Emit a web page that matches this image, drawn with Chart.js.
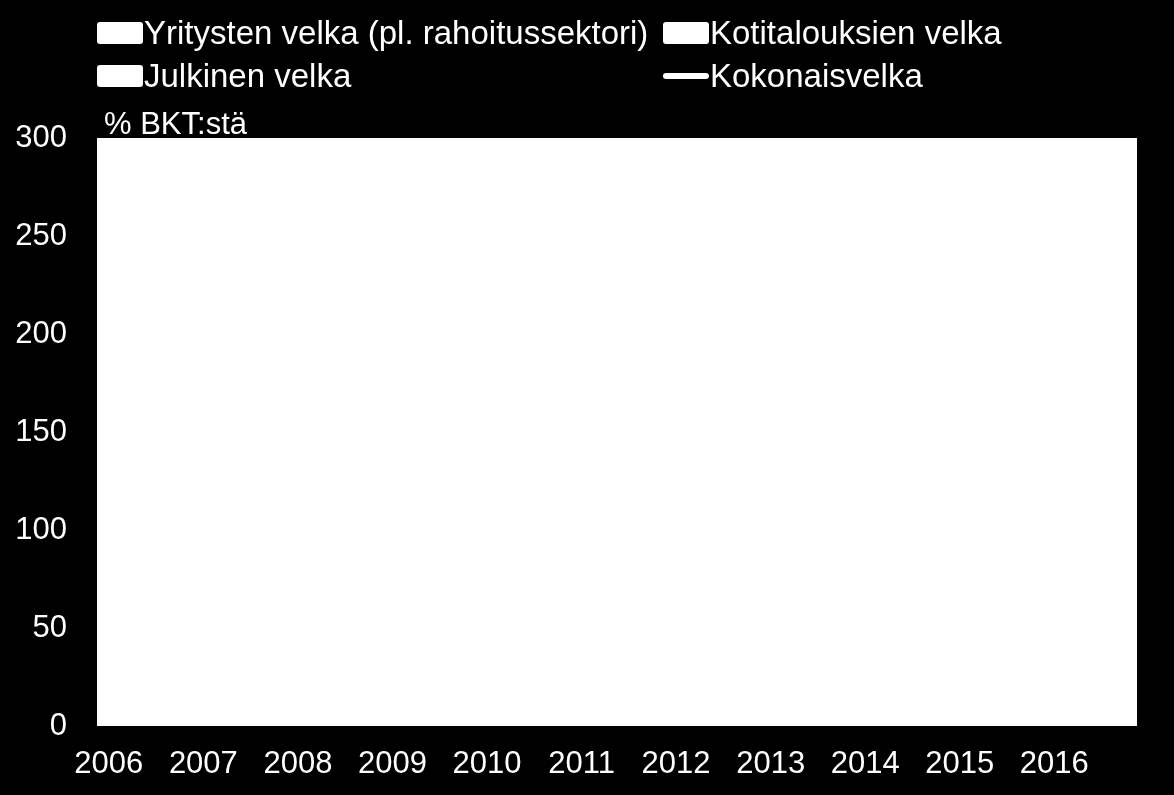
<!DOCTYPE html>
<html>
<head>
<meta charset="utf-8">
<script src="https://cdn.jsdelivr.net/npm/chart.js@4.4.1/dist/chart.umd.min.js"></script>
<style>
  html, body { margin:0; padding:0; background:#000; }
  #wrap { position:relative; width:1174px; height:795px; background:#000; overflow:hidden; }
  #c { position:absolute; left:0; top:0; }
  .lg { position:absolute; color:#fff; font-family:"Liberation Sans", Arial, sans-serif; font-size:31px; line-height:36px; white-space:nowrap; }
  .lg.big { font-size:33px; line-height:38px; }
  .box { position:absolute; width:46px; height:22px; background:#fff; border-radius:3px; }
  .ln { position:absolute; width:46px; height:6px; background:#fff; border-radius:3px; }
</style>
</head>
<body>
<div id="wrap">
  <canvas id="c" width="1174" height="795"></canvas>
  <div id="legend"></div>
  <div class="lg" id="ytitle" style="left:104px; top:106px;"></div>
</div>
<script>
// ---- data ----
const years = ['2006','2007','2008','2009','2010','2011','2012','2013','2014','2015','2016'];
const quarters = ['Q1','Q2','Q3','Q4'];
const categories = [];
years.forEach(y => quarters.forEach(q => categories.push(y + q)));
const yTitle = '% BKT:stä';
const seriesNames = ['Yritysten velka (pl. rahoitussektori)', 'Kotitalouksien velka', 'Julkinen velka', 'Kokonaisvelka'];

const corporate = [98,99,100,101, 102,103,104,106, 108,110,112,115, 119,121,122,121, 120,119,118,117,
                   116,116,117,118, 119,120,121,121, 120,119,119,118, 118,119,120,121, 122,123,124,124, 123,122,122,121];
const household = [50,51,52,53, 54,55,56,57, 58,58,59,59, 61,62,63,63, 63,64,64,64,
                   64,64,65,65, 65,66,66,66, 66,66,66,66, 66,66,66,66, 66,66,67,67, 67,67,67,67];
const publicDebt = [40,40,39,39, 37,36,35,34, 34,33,33,33, 36,39,41,42, 44,46,47,47,
                    47,48,48,48, 50,51,53,53, 54,55,56,56, 57,59,60,60, 62,63,63,63, 63,63,63,63];
const total = [188,190,191,193, 193,194,195,197, 200,201,204,207, 216,222,226,226, 227,229,229,228,
               227,228,230,231, 234,237,240,240, 240,240,241,240, 241,244,246,247, 250,252,254,254, 253,252,252,251];
const yTicks = [0,50,100,150,200,250,300];

// ---- legend (HTML) ----
const legend = document.getElementById('legend');
const legendItems = [
  {name: seriesNames[0], kind:'box', x:97, y:22},
  {name: seriesNames[1], kind:'box', x:663, y:22},
  {name: seriesNames[2], kind:'box', x:97, y:65},
  {name: seriesNames[3], kind:'line', x:663, y:65}
];
legendItems.forEach(it => {
  const m = document.createElement('div');
  if (it.kind === 'box') { m.className = 'box'; m.style.left = it.x + 'px'; m.style.top = it.y + 'px'; }
  else { m.className = 'ln'; m.style.left = it.x + 'px'; m.style.top = (it.y + 8) + 'px'; }
  legend.appendChild(m);
  const t = document.createElement('div');
  t.className = 'lg big';
  t.textContent = it.name;
  t.style.left = (it.x + 47) + 'px';
  t.style.top = (it.y - 8) + 'px';
  legend.appendChild(t);
});
document.getElementById('ytitle').textContent = yTitle;

// ---- chart ----
const bgPlugin = {
  id: 'bg',
  beforeDraw(chart) {
    const {ctx, chartArea: a} = chart;
    ctx.save();
    ctx.fillStyle = '#000';
    ctx.fillRect(0, 0, chart.width, chart.height);
    ctx.fillStyle = '#fff';
    ctx.fillRect(a.left, a.top, a.right - a.left, a.bottom - a.top);
    ctx.restore();
  }
};

const font = {family: '"Liberation Sans", Arial, sans-serif', size: 31};

new Chart(document.getElementById('c'), {
  type: 'bar',
  data: {
    labels: categories,
    datasets: [
      {type:'bar', label: seriesNames[0], data: corporate, backgroundColor:'#fff', stack:'s', order:2},
      {type:'bar', label: seriesNames[1], data: household, backgroundColor:'#fff', stack:'s', order:2},
      {type:'bar', label: seriesNames[2], data: publicDebt, backgroundColor:'#fff', stack:'s', order:2},
      {type:'line', label: seriesNames[3], data: total, borderColor:'#fff', borderWidth:4, pointRadius:0, stack:'t', order:1}
    ]
  },
  options: {
    responsive: false,
    animation: false,
    devicePixelRatio: 1,
    layout: { padding: {top:138, right:37, left:0, bottom:0} },
    plugins: { legend: {display:false}, tooltip: {enabled:false}, title: {display:false} },
    scales: {
      x: {
        stacked: true,
        grid: {display:false, drawTicks:false},
        border: {display:false},
        ticks: {
          color:'#fff', font: font, autoSkip:false, maxRotation:0, minRotation:0, padding:20,
          callback: function(v, i) { const c = categories[i]; return c.endsWith('Q1') ? c.slice(0,4) : ''; }
        },
        afterFit(s) { s.height = 69; }
      },
      y: {
        stacked: true,
        min: 0, max: 300,
        grid: {display:false, drawTicks:false},
        border: {display:false},
        afterBuildTicks(s) { s.ticks = yTicks.map(v => ({value:v})); },
        ticks: { color:'#fff', font: font, padding:30, stepSize:50 },
        afterFit(s) { s.width = 97; }
      }
    }
  },
  plugins: [bgPlugin]
});
</script>
</body>
</html>
